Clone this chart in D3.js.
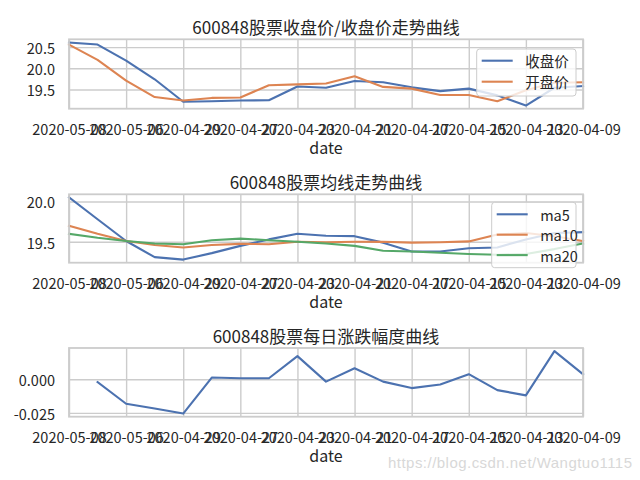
<!DOCTYPE html>
<html><head><meta charset="utf-8">
<script src="https://cdn.jsdelivr.net/npm/d3@7/dist/d3.min.js"></script>
<style>body{margin:0;background:#fff}svg{display:block}</style>
</head><body><svg id="c" width="640" height="480"></svg>
<script>
const dates = ["2020-05-08","2020-05-07","2020-05-06","2020-04-30","2020-04-29","2020-04-28","2020-04-27","2020-04-24","2020-04-23","2020-04-22","2020-04-21","2020-04-20","2020-04-17","2020-04-16","2020-04-15","2020-04-14","2020-04-13","2020-04-10","2020-04-09"];
const xTickLabels = ["2020-05-08","2020-05-06","2020-04-29","2020-04-27","2020-04-23","2020-04-21","2020-04-17","2020-04-15","2020-04-13","2020-04-09"];
const closePrice = [20.61,20.56,20.18,19.74,19.21,19.22,19.24,19.245,19.57,19.54,19.70,19.67,19.55,19.46,19.52,19.36,19.12,19.54,19.58];
const openPrice  = [20.56,20.20,19.71,19.32,19.24,19.30,19.31,19.60,19.62,19.64,19.81,19.56,19.52,19.37,19.37,19.22,19.48,19.66,19.67];
const ma5  = [20.05,19.78,19.51,19.31,19.28,19.36,19.45,19.53,19.60,19.575,19.57,19.49,19.38,19.38,19.42,19.43,19.53,19.61,19.62];
const ma10 = [19.70,19.60,19.51,19.46,19.43,19.46,19.475,19.47,19.50,19.495,19.50,19.50,19.49,19.495,19.505,19.59,19.61,19.57,19.51];
const ma20 = [19.60,19.55,19.51,19.48,19.47,19.52,19.54,19.52,19.50,19.48,19.45,19.39,19.38,19.365,19.35,19.34,19.35,19.41,19.48];
const pChange = [null,-0.0022,-0.0182,-0.0218,-0.0255,0.0012,0.0007,0.0007,0.0171,-0.0018,0.0081,-0.0018,-0.0066,-0.0040,0.0037,-0.0081,-0.0120,0.0208,0.0037];
const titles = ["600848股票收盘价/收盘价走势曲线","600848股票均线走势曲线","600848股票每日涨跌幅度曲线"];
const yTicks1 = [19.5, 20.0, 20.5];
const yTicks2 = [19.5, 20.0];
const yTicks3 = [-0.025, 0.000];
const colors = ["#4C72B0","#DD8452","#55A868"];

const FONT = "'Noto Sans CJK SC','Noto Sans',sans-serif";
const TXT = "#262626", GRID = "#cccccc";
const svg = d3.select("#c");
const L = 69, R = 583;

const panels = [
  {top:39.3, bottom:108.7, title:titles[0], ticks:yTicks1, fmt:d3.format(".1f"),
   series:[{name:"收盘价",v:closePrice,c:colors[0]},{name:"开盘价",v:openPrice,c:colors[1]}],
   legend:{x:476.7,y:49,w:99.3,h:47}},
  {top:194.3, bottom:262.7, title:titles[1], ticks:yTicks2, fmt:d3.format(".1f"),
   series:[{name:"ma5",v:ma5,c:colors[0]},{name:"ma10",v:ma10,c:colors[1]},{name:"ma20",v:ma20,c:colors[2]}],
   legend:{x:491.7,y:202.3,w:84.3,h:65.4}},
  {top:348, bottom:416.7, title:titles[2], ticks:yTicks3, fmt:d => d3.format(".3f")(d).replace("−","-"),
   series:[{name:null,v:pChange,c:colors[0]}], legend:null}
];

const x = d3.scaleLinear().domain([0, dates.length-1]).range([L, R]);
const tickIdx = xTickLabels.map(t => dates.indexOf(t));

panels.forEach(p => {
  const vals = p.series.flatMap(s => s.v).filter(v => v != null);
  const [mn, mx] = d3.extent(vals);
  const pad = (mx - mn) * 0.05;
  const y = d3.scaleLinear().domain([mn - pad, mx + pad]).range([p.bottom, p.top]);
  const g = svg.append("g");
  const h = p.bottom - p.top;

  // grid
  const gx = g.append("g").attr("transform", `translate(0,${p.bottom})`)
    .call(d3.axisBottom(x).tickValues(tickIdx).tickSize(-h).tickFormat(""));
  const gy = g.append("g").attr("transform", `translate(${L},0)`)
    .call(d3.axisLeft(y).tickValues(p.ticks).tickSize(-(R-L)).tickFormat(""));
  [gx, gy].forEach(a => { a.select(".domain").remove();
    a.selectAll(".tick line").attr("stroke", GRID).attr("stroke-width", 1.4); });

  // lines
  p.series.forEach(s => {
    g.append("path").datum(s.v)
      .attr("fill","none").attr("stroke", s.c).attr("stroke-width", 2.1)
      .attr("stroke-linejoin","round").attr("stroke-linecap","square")
      .attr("d", d3.line().defined(d => d != null).x((d,i) => x(i)).y(d => y(d)));
  });

  // frame
  g.append("rect").attr("x", L).attr("y", p.top).attr("width", R-L).attr("height", h)
    .attr("fill","none").attr("stroke", GRID).attr("stroke-width", 1.8);

  // tick labels
  const xl = g.append("g").attr("transform", `translate(0,${p.bottom})`)
    .call(d3.axisBottom(x).tickValues(tickIdx).tickSize(0).tickPadding(0)
      .tickFormat((d,i) => xTickLabels[i]));
  xl.select(".domain").remove();
  xl.selectAll("text").attr("y", 19.5).attr("dy", null).attr("dominant-baseline","central")
    .attr("font-family", FONT).attr("font-size", 14.5).attr("fill", TXT);
  const yl = g.append("g").attr("transform", `translate(55,0)`)
    .call(d3.axisLeft(y).tickValues(p.ticks).tickSize(0).tickPadding(0).tickFormat(p.fmt));
  yl.select(".domain").remove();
  yl.selectAll("text").attr("x", 0).attr("dy", null).attr("dominant-baseline","central")
    .attr("text-anchor","end").attr("font-family", FONT).attr("font-size", 14.5).attr("fill", TXT);

  // title and xlabel
  g.append("text").attr("x", (L+R)/2).attr("y", p.top - 12.6).attr("text-anchor","middle")
    .attr("dominant-baseline","central").attr("font-family", FONT).attr("font-size", 17)
    .attr("fill", TXT).text(p.title);
  g.append("text").attr("x", (L+R)/2).attr("y", p.bottom + 38).attr("text-anchor","middle")
    .attr("dominant-baseline","central").attr("font-family", FONT).attr("font-size", 16)
    .attr("fill", TXT).text("date");

  // legend
  if (p.legend) {
    const lg = p.legend;
    g.append("rect").attr("x", lg.x).attr("y", lg.y).attr("width", lg.w).attr("height", lg.h)
      .attr("rx", 3).attr("fill", "#fff").attr("fill-opacity", 0.8)
      .attr("stroke", GRID).attr("stroke-width", 1);
    const n = p.series.length;
    const step = n === 2 ? 21 : 20.4;
    const y0 = n === 2 ? lg.y + 11.7 : lg.y + 12;
    p.series.forEach((s, i) => {
      const yy = y0 + i * step;
      g.append("line").attr("x1", lg.x + 5).attr("x2", lg.x + 36).attr("y1", yy).attr("y2", yy)
        .attr("stroke", s.c).attr("stroke-width", 2.1);
      g.append("text").attr("x", lg.x + 48.5).attr("y", yy)
        .attr("dominant-baseline","central").attr("font-family", FONT).attr("font-size", 14.5)
        .attr("fill", TXT).text(s.name);
    });
  }
});

// watermark
svg.append("text").attr("x", 388).attr("y", 462).attr("dominant-baseline","central")
  .attr("font-family","'Liberation Sans',Arial,sans-serif").attr("font-size", 15)
  .attr("textLength", 244).attr("fill", "#d8d8d8").text("https://blog.csdn.net/Wangtuo1115");
</script></body></html>
